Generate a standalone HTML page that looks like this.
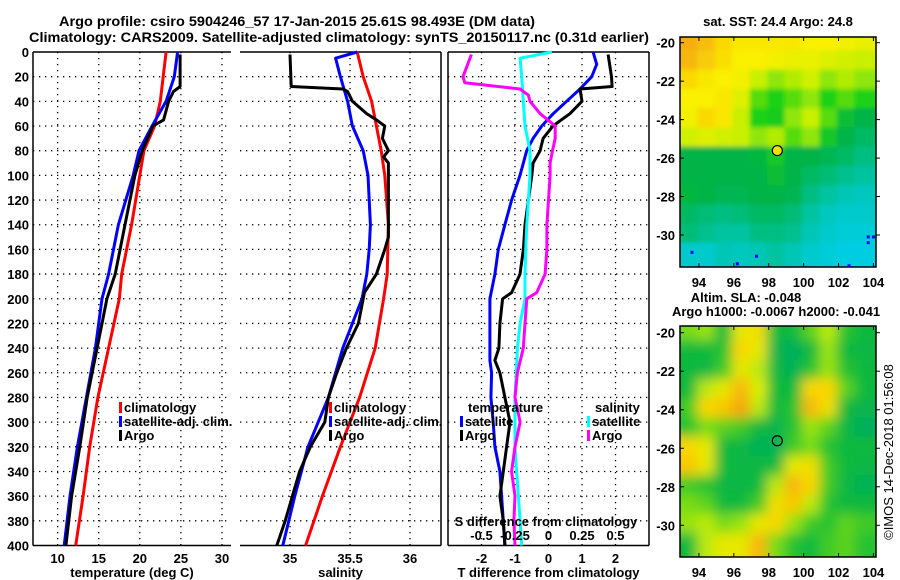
<!DOCTYPE html>
<html><head><meta charset="utf-8"><style>
html,body{margin:0;padding:0;background:#fff;width:900px;height:580px;overflow:hidden}
svg{display:block}
text{font-family:"Liberation Sans",Arial,sans-serif;font-weight:bold;fill:#000}
</style></head><body>
<svg id="fig" width="900" height="580" viewBox="0 0 900 580" xmlns="http://www.w3.org/2000/svg">
<defs><filter id="blur" x="0" y="0" width="1" height="1"><feGaussianBlur stdDeviation="6"/></filter>
<filter id="blur2" x="0" y="0" width="1" height="1"><feGaussianBlur stdDeviation="2.5"/></filter>
<clipPath id="c1"><rect x="680" y="37" width="196" height="230"/></clipPath>
<clipPath id="c2"><rect x="680" y="326" width="196" height="231"/></clipPath></defs>
<text x="297" y="26" text-anchor="middle" font-size="14" textLength="476" lengthAdjust="spacingAndGlyphs">Argo profile: csiro 5904246_57 17-Jan-2015 25.61S 98.493E (DM data)</text>
<text x="339" y="42" text-anchor="middle" font-size="14" textLength="620" lengthAdjust="spacingAndGlyphs">Climatology: CARS2009. Satellite-adjusted climatology: synTS_20150117.nc (0.31d earlier)</text>
<g id="p1"></g>
<g id="p2"></g>
<g id="p3"></g>
<g id="m1"></g>
<g id="m2"></g>
<text transform="translate(893,452) rotate(-90)" text-anchor="middle" font-size="13" style="font-weight:normal">©IMOS 14-Dec-2018 01:56:08</text>
</svg>
<script>
// ---- profile data ----
const tClimDepth=[0,40,60,80,100,140,180,200,240,280,320,360,400];
const tClim=[23.2,22.5,21.8,20.5,20.0,19.0,17.8,17.5,16.2,14.9,13.9,13.1,12.2];
const tSatDepth=[0,20,40,60,80,100,140,180,200,240,280,320,360,400];
const tSat=[24.6,24.2,23.2,21.5,19.9,19.2,17.4,16.2,15.4,14.6,13.5,12.4,11.5,10.8];
const tArgoDepth=[2,28,32,40,55,60,80,100,140,180,200,240,280,320,360,400];
const tArgo=[24.9,24.9,24.1,23.5,22.9,21.6,20.3,19.4,18.2,17.0,16.0,14.8,13.6,12.7,11.7,11.0];
const sClimDepth=[0,20,40,60,80,100,140,180,200,240,280,320,360,400];
const sClim=[35.56,35.61,35.68,35.72,35.76,35.79,35.82,35.81,35.78,35.71,35.58,35.42,35.27,35.13];
const sSatDepth=[0,5,20,40,60,80,100,140,160,180,200,240,280,320,360,400];
const sSat=[35.56,35.38,35.42,35.48,35.52,35.61,35.65,35.67,35.66,35.64,35.60,35.44,35.32,35.15,35.04,34.94];
const sArgoDepth=[2,28,30,32,40,50,55,60,70,80,85,90,100,150,160,180,195,220,240,260,280,300,320,340,360,380,400];
const sArgo=[35.00,35.01,35.44,35.48,35.52,35.64,35.72,35.79,35.77,35.82,35.78,35.82,35.82,35.82,35.79,35.72,35.62,35.57,35.47,35.39,35.32,35.29,35.17,35.08,35.02,34.96,34.89];
const dtSatDepth=[0,10,20,30,40,50,60,70,80,100,120,140,160,180,200,250,260,280,300,320,340,360,380,400];
const dtSat=[1.33,1.44,1.29,0.94,0.54,0.14,-0.2,-0.46,-0.65,-0.85,-1.1,-1.3,-1.5,-1.6,-1.75,-1.75,-1.7,-1.72,-1.65,-1.6,-1.45,-1.4,-1.35,-1.3];
const dtArgoDepth=[2,20,28,30,40,50,60,70,80,90,100,120,140,160,180,195,200,220,240,250,260,280,300,320,340,360,380,400];
const dtArgo=[1.78,1.88,1.9,0.94,1.0,0.64,0.13,-0.16,-0.25,-0.46,-0.5,-0.6,-0.7,-0.75,-0.85,-1.1,-1.37,-1.45,-1.48,-1.6,-1.45,-1.3,-1.15,-1.25,-1.35,-1.45,-1.35,-1.3];
const dsSatDepth=[0,5,20,40,60,80,100,120,140,160,180,200,220,240,260,280,300,320,340,360,380,400];
const dsSat=[0.025,-0.212,-0.2,-0.188,-0.175,-0.138,-0.138,-0.15,-0.162,-0.17,-0.175,-0.175,-0.212,-0.232,-0.24,-0.25,-0.25,-0.25,-0.238,-0.225,-0.212,-0.2];
const dsArgoDepth=[2,20,25,30,35,40,50,60,70,80,90,100,120,140,160,180,195,200,220,240,260,280,300,320,340,360,380,400];
const dsArgo=[-0.575,-0.638,-0.625,-0.212,-0.15,-0.138,-0.062,0.05,0.05,0.03,0.012,0.012,0,-0.012,-0.012,-0.025,-0.088,-0.162,-0.175,-0.188,-0.232,-0.25,-0.212,-0.25,-0.275,-0.25,-0.258,-0.25];
// ticks
const depthTicks=[0,20,40,60,80,100,120,140,160,180,200,220,240,260,280,300,320,340,360,380,400];
const tTicks=[10,15,20,25,30];
const sTicks=[35,35.5,36];
const sTickLabels=["35","35.5","36"];
const dTicks=[-2,-1,0,1,2];
const dsTicks=[-0.5,-0.25,0,0.25,0.5];
const dsTickLabels=["-0.5","-0.25","0","0.25","0.5"];

const NS="http://www.w3.org/2000/svg";
function mk(parent,tag,attrs){const e=document.createElementNS(NS,tag);for(const k in attrs)e.setAttribute(k,attrs[k]);parent.appendChild(e);return e;}
const Y0=52,Y1=545.5;
const yD=d=>Y0+(Y1-Y0)*d/400;

function panel(g,x0,x1,vmin,vmax,xticks,xlabels,title,leftLine,rightLine){
  const xs=v=>x0+(x1-x0)*(v-vmin)/(vmax-vmin);
  for(const d of depthTicks){ if(d===0||d===400) continue;
    const l=mk(g,'line',{x1:x0,x2:x1,y1:yD(d),y2:yD(d),stroke:'#000','stroke-width':1.3,'stroke-dasharray':'1.3 4.7'});
    
    }
  xticks.forEach((v,i)=>{
    const l=mk(g,'line',{x1:xs(v),x2:xs(v),y1:Y0,y2:Y1,stroke:'#000','stroke-width':1.3,'stroke-dasharray':'1.3 4.7'});
    
    
    const t=mk(g,'text',{x:xs(v),y:563,'text-anchor':'middle','font-size':13});
    t.textContent=xlabels[i];
    
    });
  mk(g,'line',{x1:x0,x2:x1,y1:Y0,y2:Y0,stroke:'#000','stroke-width':1.5});
  mk(g,'line',{x1:x0,x2:x1,y1:Y1,y2:Y1,stroke:'#000','stroke-width':1.5});
  if(leftLine) mk(g,'line',{x1:x0,x2:x0,y1:Y0,y2:Y1,stroke:'#000','stroke-width':1.5});
  if(rightLine) mk(g,'line',{x1:x1,x2:x1,y1:Y0,y2:Y1,stroke:'#000','stroke-width':1.5});
  const tt=mk(g,'text',{x:(x0+x1)/2,y:577,'text-anchor':'middle','font-size':13});
  tt.textContent=title;
  
  
  return xs;
}
function series(g,xs,depths,vals,color,name){
  const p=mk(g,'polyline',{points:depths.map((d,i)=>xs(vals[i]).toFixed(1)+','+yD(d).toFixed(1)).join(' '),fill:'none',stroke:color,'stroke-width':3,'stroke-linejoin':'round'});
  
  
}
function legend(g,x,y,color,label,name){
  mk(g,'rect',{x:x,y:y-10,width:3,height:11,fill:color});
  const t=mk(g,'text',{x:x+5,y:y,'font-size':13});
  t.textContent=label;
  
  
}
// panel 1
const p1=document.getElementById('p1');
const xT=panel(p1,33,231,7,31.1,tTicks,tTicks.map(String),'temperature (deg C)',true,false);
depthTicks.forEach(d=>{const t=mk(p1,'text',{x:29,y:yD(d)+5,'text-anchor':'end','font-size':13});t.textContent=d;

});
series(p1,xT,tClimDepth,tClim,'#ff0000','temp-climatology-line');
series(p1,xT,tSatDepth,tSat,'#0000ff','temp-satellite-line');
series(p1,xT,tArgoDepth,tArgo,'#000000','temp-argo-line');
legend(p1,119,412,'#f00','climatology','legend-climatology');
legend(p1,119,426,'#00f','satellite-adj. clim.','legend-satellite');
legend(p1,119,440,'#000','Argo','legend-argo');
// panel 2
const p2=document.getElementById('p2');
const xS=panel(p2,240,441,34.583,36.258,sTicks,sTickLabels,'salinity',false,true);
series(p2,xS,sClimDepth,sClim,'#ff0000','sal-climatology-line');
series(p2,xS,sSatDepth,sSat,'#0000ff','sal-satellite-line');
series(p2,xS,sArgoDepth,sArgo,'#000000','sal-argo-line');
legend(p2,329,412,'#f00','climatology','legend-climatology');
legend(p2,329,426,'#00f','satellite-adj. clim.','legend-satellite');
legend(p2,329,440,'#000','Argo','legend-argo');
// panel 3
const p3=document.getElementById('p3');
const xD=panel(p3,448,649,-3,3,dTicks,dTicks.map(String),'T difference from climatology',true,true);
const xDS=v=>xD(v*4);
series(p3,xD,dtSatDepth,dtSat,'#0000ff','tdiff-satellite-line');
series(p3,xD,dtArgoDepth,dtArgo,'#000000','tdiff-argo-line');
series(p3,xDS,dsSatDepth,dsSat,'#00ffff','sdiff-satellite-line');
series(p3,xDS,dsArgoDepth,dsArgo,'#ff00ff','sdiff-argo-line');
{const t=mk(p3,'text',{x:468,y:412,'font-size':13});t.textContent='temperature';


const s=mk(p3,'text',{x:595,y:412,'font-size':13});s.textContent='salinity';

}
legend(p3,460,426,'#00f','satellite','legend-t-satellite');
legend(p3,460,440,'#000','Argo','legend-t-argo');
legend(p3,587,426,'#0ff','satellite','legend-s-satellite');
legend(p3,587,440,'#f0f','Argo','legend-s-argo');
{const t=mk(p3,'text',{x:546,y:526,'text-anchor':'middle','font-size':13});t.textContent='S difference from climatology';

}
dsTicks.forEach((v,i)=>{const t=mk(p3,'text',{x:xDS(v),y:540,'text-anchor':'middle','font-size':13});t.textContent=dsTickLabels[i];

});

// ---- map data ----
const lons=[93,94,95,96,97,98,99,100,101,102,103,104];
const lonTicks=[94,96,98,100,102,104];
const latTicks=[-20,-22,-24,-26,-28,-30];
const sstRows=[
[0.95,0.9,0.8,0.75,0.75,0.75,0.75,0.72,0.72,0.7,0.68],
[0.92,0.85,0.78,0.72,0.72,0.7,0.68,0.68,0.65,0.62,0.6],
[0.8,0.75,0.72,0.7,0.6,0.55,0.58,0.62,0.55,0.58,0.55],
[0.72,0.72,0.75,0.65,0.5,0.45,0.5,0.55,0.45,0.5,0.45],
[0.7,0.8,0.75,0.6,0.45,0.42,0.55,0.6,0.5,0.35,0.3],
[0.62,0.65,0.62,0.6,0.55,0.58,0.5,0.55,0.4,0.3,0.25],
[0.3,0.3,0.3,0.3,0.32,0.4,0.3,0.3,0.28,0.25,0.2],
[0.3,0.3,0.3,0.3,0.3,0.35,0.3,0.25,0.22,0.18,0.15],
[0.32,0.3,0.28,0.28,0.3,0.3,0.28,0.2,0.15,0.1,0.08],
[0.25,0.22,0.2,0.22,0.25,0.25,0.22,0.15,0.08,0.05,0.05],
[0.22,0.18,0.15,0.15,0.2,0.2,0.18,0.1,0.05,0.02,0.02],
[0.05,0.05,0.1,0.08,0.1,0.15,0.1,0.05,0.02,0.0,0.0]];
const slaRows=[
[0.5,0.55,0.3,0.7,0.75,0.3,0.3,0.45,0.6,0.35,0.3],
[0.3,0.3,0.35,0.8,0.7,0.2,0.1,0.3,0.55,0.3,0.25],
[0.3,0.25,0.4,0.7,0.6,0.25,0.15,0.35,0.55,0.35,0.3],
[0.3,0.6,0.7,0.9,0.65,0.3,0.3,0.8,0.8,0.45,0.3],
[0.4,0.8,0.85,0.95,0.6,0.3,0.35,0.9,0.75,0.3,0.2],
[0.35,0.5,0.45,0.4,0.3,0.2,0.35,0.55,0.45,0.25,0.1],
[0.8,0.7,0.3,0.25,0.15,0.15,0.4,0.5,0.35,0.3,0.3],
[0.85,0.7,0.3,0.25,0.25,0.3,0.7,0.75,0.4,0.3,0.25],
[0.4,0.35,0.25,0.25,0.3,0.6,0.9,0.8,0.4,0.25,0.15],
[0.5,0.45,0.3,0.3,0.4,0.75,0.85,0.6,0.35,0.3,0.3],
[0.55,0.6,0.5,0.55,0.7,0.8,0.55,0.4,0.35,0.45,0.4],
[0.3,0.6,0.7,0.7,0.9,0.5,0.35,0.3,0.4,0.45,0.35]];
const floatLon=98.49, floatLat=-25.61;

function cmap(v,stops){
  for(let i=1;i<stops.length;i++){ if(v<=stops[i][0]){const a=stops[i-1],b=stops[i];const f=(v-a[0])/(b[0]-a[0]||1);
    return 'rgb('+[1,2,3].map(k=>Math.round(a[k]+(b[k]-a[k])*f)).join(',')+')';}}
  const l=stops[stops.length-1];return 'rgb('+l[1]+','+l[2]+','+l[3]+')';
}
const sstStops=[[0,0,205,225],[0.15,0,195,160],[0.3,0,180,70],[0.45,30,210,20],[0.6,200,240,0],[0.72,250,240,0],[1,245,160,20]];
const slaStops=[[0,0,170,110],[0.3,10,185,60],[0.5,120,220,20],[0.65,220,240,0],[0.8,250,215,0],[1,245,150,20]];

function map(g,top,bot,lat20y,lat30y,rows,stops,clip,blurId,fillMarker,t1){
  const lx=v=>681.5+(v-93)*17.45;
  const ly=v=>lat20y+(lat30y-lat20y)*(-20-v)/10;
  const cg=mk(g,'g',{'clip-path':'url(#'+clip+')'});
  const inner=mk(cg,'g',{filter:'url(#'+blurId+')'});
  mk(inner,'rect',{x:660,y:top-20,width:240,height:bot-top+40,fill:cmap(rows[6][5],stops)});
  rows.forEach((row,r)=>row.forEach((v,c)=>{
    const lat=-19.5-r, lon=lons[c];
    const x0=lx(lon-0.1), x1=lx(lons[c+1]+0.1), y0=ly(lat+0.1), y1=ly(lat-1.1);
    const e=mk(inner,'rect',{x:(c===0?x0-15:x0).toFixed(1),y:(r===0?y0-15:y0).toFixed(1),width:((c===row.length-1?x1+15:x1)-(c===0?x0-15:x0)).toFixed(1),height:((r===rows.length-1?y1+15:y1)-(r===0?y0-15:y0)).toFixed(1),fill:cmap(v,stops)});
    
    
  }));
  mk(g,'rect',{x:680,y:top,width:196,height:bot-top,fill:'none',stroke:'#000','stroke-width':1.5});
  lonTicks.forEach(v=>{mk(g,'line',{x1:lx(v),x2:lx(v),y1:bot,y2:bot-4,stroke:'#000'});mk(g,'line',{x1:lx(v),x2:lx(v),y1:top,y2:top+4,stroke:'#000'});
    const t=mk(g,'text',{x:lx(v),y:bot+20,'text-anchor':'middle','font-size':13});t.textContent=v;
    
    });
  latTicks.forEach(v=>{mk(g,'line',{x1:680,x2:684,y1:ly(v),y2:ly(v),stroke:'#000'});mk(g,'line',{x1:876,x2:880,y1:ly(v),y2:ly(v),stroke:'#000'});
    const t=mk(g,'text',{x:675,y:ly(v)+5,'text-anchor':'end','font-size':13});t.textContent=v;
    
    });
  const m=mk(g,'circle',{cx:lx(floatLon),cy:ly(floatLat),r:5,fill:fillMarker,stroke:'#000','stroke-width':1.2});
  
  
  t1.forEach(([txt,y,x])=>{const t=mk(g,'text',{x:x,y:y,'text-anchor':'middle','font-size':13});t.textContent=txt;
    
    });
  return {lx,ly};
}
const m1=map(document.getElementById('m1'),37,267,42.7,235,sstRows,sstStops,'c1','blur2','#f0e000',[["sat. SST: 24.4 Argo: 24.8",26,778]]);
[[103.7,-30.1],[103.7,-30.4],[104,-30.1],[93.6,-30.9],[97.3,-31.1],[96.2,-31.5],[102.6,-31.6]].forEach(([lo,la])=>{
  const r=mk(document.getElementById('m1'),'rect',{x:m1.lx(lo)-1.5,y:m1.ly(la)-1.5,width:3,height:3,fill:'#0000ff'});
  
  });
map(document.getElementById('m2'),326,557,332.7,525.3,slaRows,slaStops,'c2','blur','none',[["Altim. SLA: -0.048",302,746],["Argo h1000: -0.0067 h2000: -0.041",316,776]]);
</script>
</body></html>
